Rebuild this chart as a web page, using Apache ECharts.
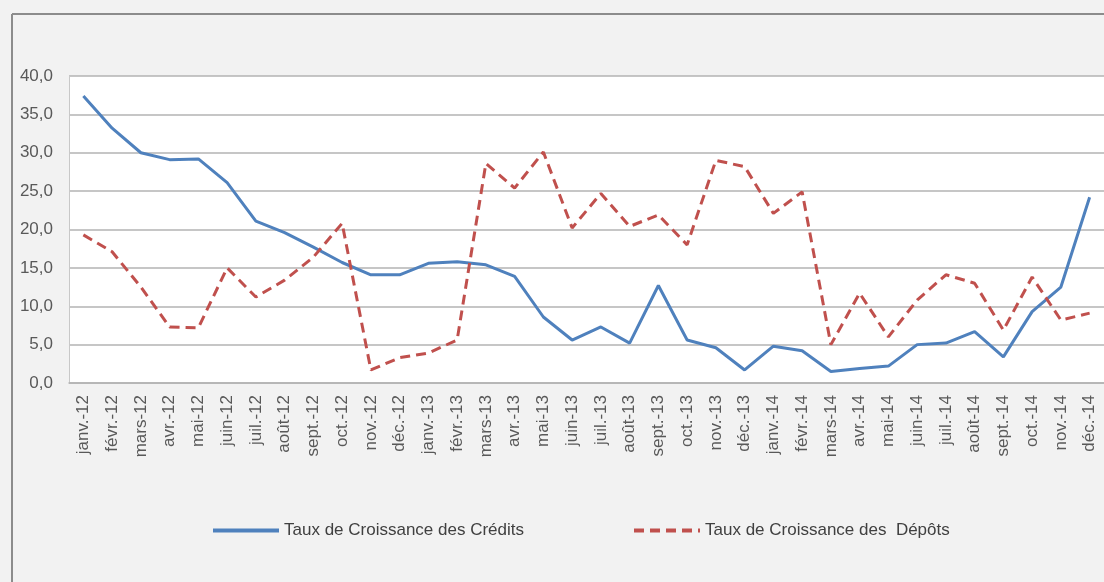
<!DOCTYPE html>
<html>
<head>
<meta charset="utf-8">
<script src="https://cdn.jsdelivr.net/npm/echarts@6/dist/echarts.min.js"></script>
<style>
html,body{margin:0;padding:0;background:#f2f2f2;}
#c{width:1104px;height:582px;}
</style>
</head>
<body>
<div id="c"></div>
<script>
const years = ['12', '13', '14'];
const months = ['janv.', 'févr.', 'mars', 'avr.', 'mai', 'juin', 'juil.', 'août', 'sept.', 'oct.', 'nov.', 'déc.'];
const categories = [];
years.forEach(y => months.forEach(m => categories.push(m + '-' + y)));

const seriesNames = ['Taux de Croissance des Crédits', 'Taux de Croissance des  Dépôts'];
const credits = [37.4, 33.2, 30.0, 29.1, 29.2, 26.1, 21.1, 19.6, 17.7, 15.7, 14.1, 14.1,
                 15.6, 15.8, 15.4, 13.9, 8.6, 5.6, 7.3, 5.2, 12.7, 5.6, 4.6, 1.7,
                 4.8, 4.2, 1.5, 1.9, 2.2, 5.0, 5.2, 6.7, 3.4, 9.3, 12.5, 24.2];
const depots = [19.3, 17.1, 12.5, 7.3, 7.2, 15.0, 11.2, 13.4, 16.4, 20.8, 1.7, 3.3,
                3.9, 5.6, 28.6, 25.4, 30.1, 20.2, 24.7, 20.4, 21.9, 18.0, 29.0, 28.2,
                22.1, 24.9, 5.0, 11.7, 6.0, 10.8, 14.1, 13.0, 6.9, 13.8, 8.2, 9.1];
const yMin = 0, yMax = 40, yStep = 5;

const chart = echarts.init(document.getElementById('c'), null, {renderer: 'canvas'});
const FONT = 'Liberation Sans';
chart.setOption({
  backgroundColor: '#f2f2f2',
  animation: false,
  textStyle: {fontFamily: FONT},
  graphic: [
    {type: 'line', shape: {x1: 12, y1: 14, x2: 1104, y2: 14}, style: {stroke: '#8c8c8c', lineWidth: 2}},
    {type: 'line', shape: {x1: 12, y1: 14, x2: 12, y2: 582}, style: {stroke: '#8c8c8c', lineWidth: 2}}
  ],
  grid: {left: 69, right: 0, top: 76, bottom: 199, show: true, backgroundColor: '#ffffff', borderWidth: 0},
  legend: {
    left: 206, top: 517,
    itemWidth: 66, itemHeight: 14, itemGap: 108,
    itemStyle: {opacity: 0},
    lineStyle: {width: 4},
    textStyle: {fontFamily: FONT, fontSize: 17, color: '#404040'},
    data: seriesNames
  },
  xAxis: {
    type: 'category',
    data: categories,
    boundaryGap: true,
    axisLine: {show: true, lineStyle: {color: '#b3b3b3', width: 1.5}},
    axisTick: {show: false},
    axisLabel: {interval: 0, rotate: 90, margin: 12, fontSize: 17, color: '#595959', fontFamily: FONT}
  },
  yAxis: {
    type: 'value',
    min: yMin, max: yMax, interval: yStep,
    axisLine: {show: true, lineStyle: {color: '#c8c8c8', width: 1}},
    axisTick: {show: false},
    splitLine: {show: true, lineStyle: {color: '#b3b3b3', width: 1.5}},
    axisLabel: {margin: 16, fontSize: 17, color: '#595959', fontFamily: FONT,
      formatter: v => v.toFixed(1).replace('.', ',')}
  },
  series: [
    {name: seriesNames[0], type: 'line', data: credits, symbol: 'none',
     lineStyle: {color: '#4F81BD', width: 3}, itemStyle: {color: '#4F81BD'}},
    {name: seriesNames[1], type: 'line', data: depots, symbol: 'none',
     lineStyle: {color: '#C0504D', width: 3, type: [10, 6]}, itemStyle: {color: '#C0504D'}}
  ]
});
</script>
</body>
</html>
